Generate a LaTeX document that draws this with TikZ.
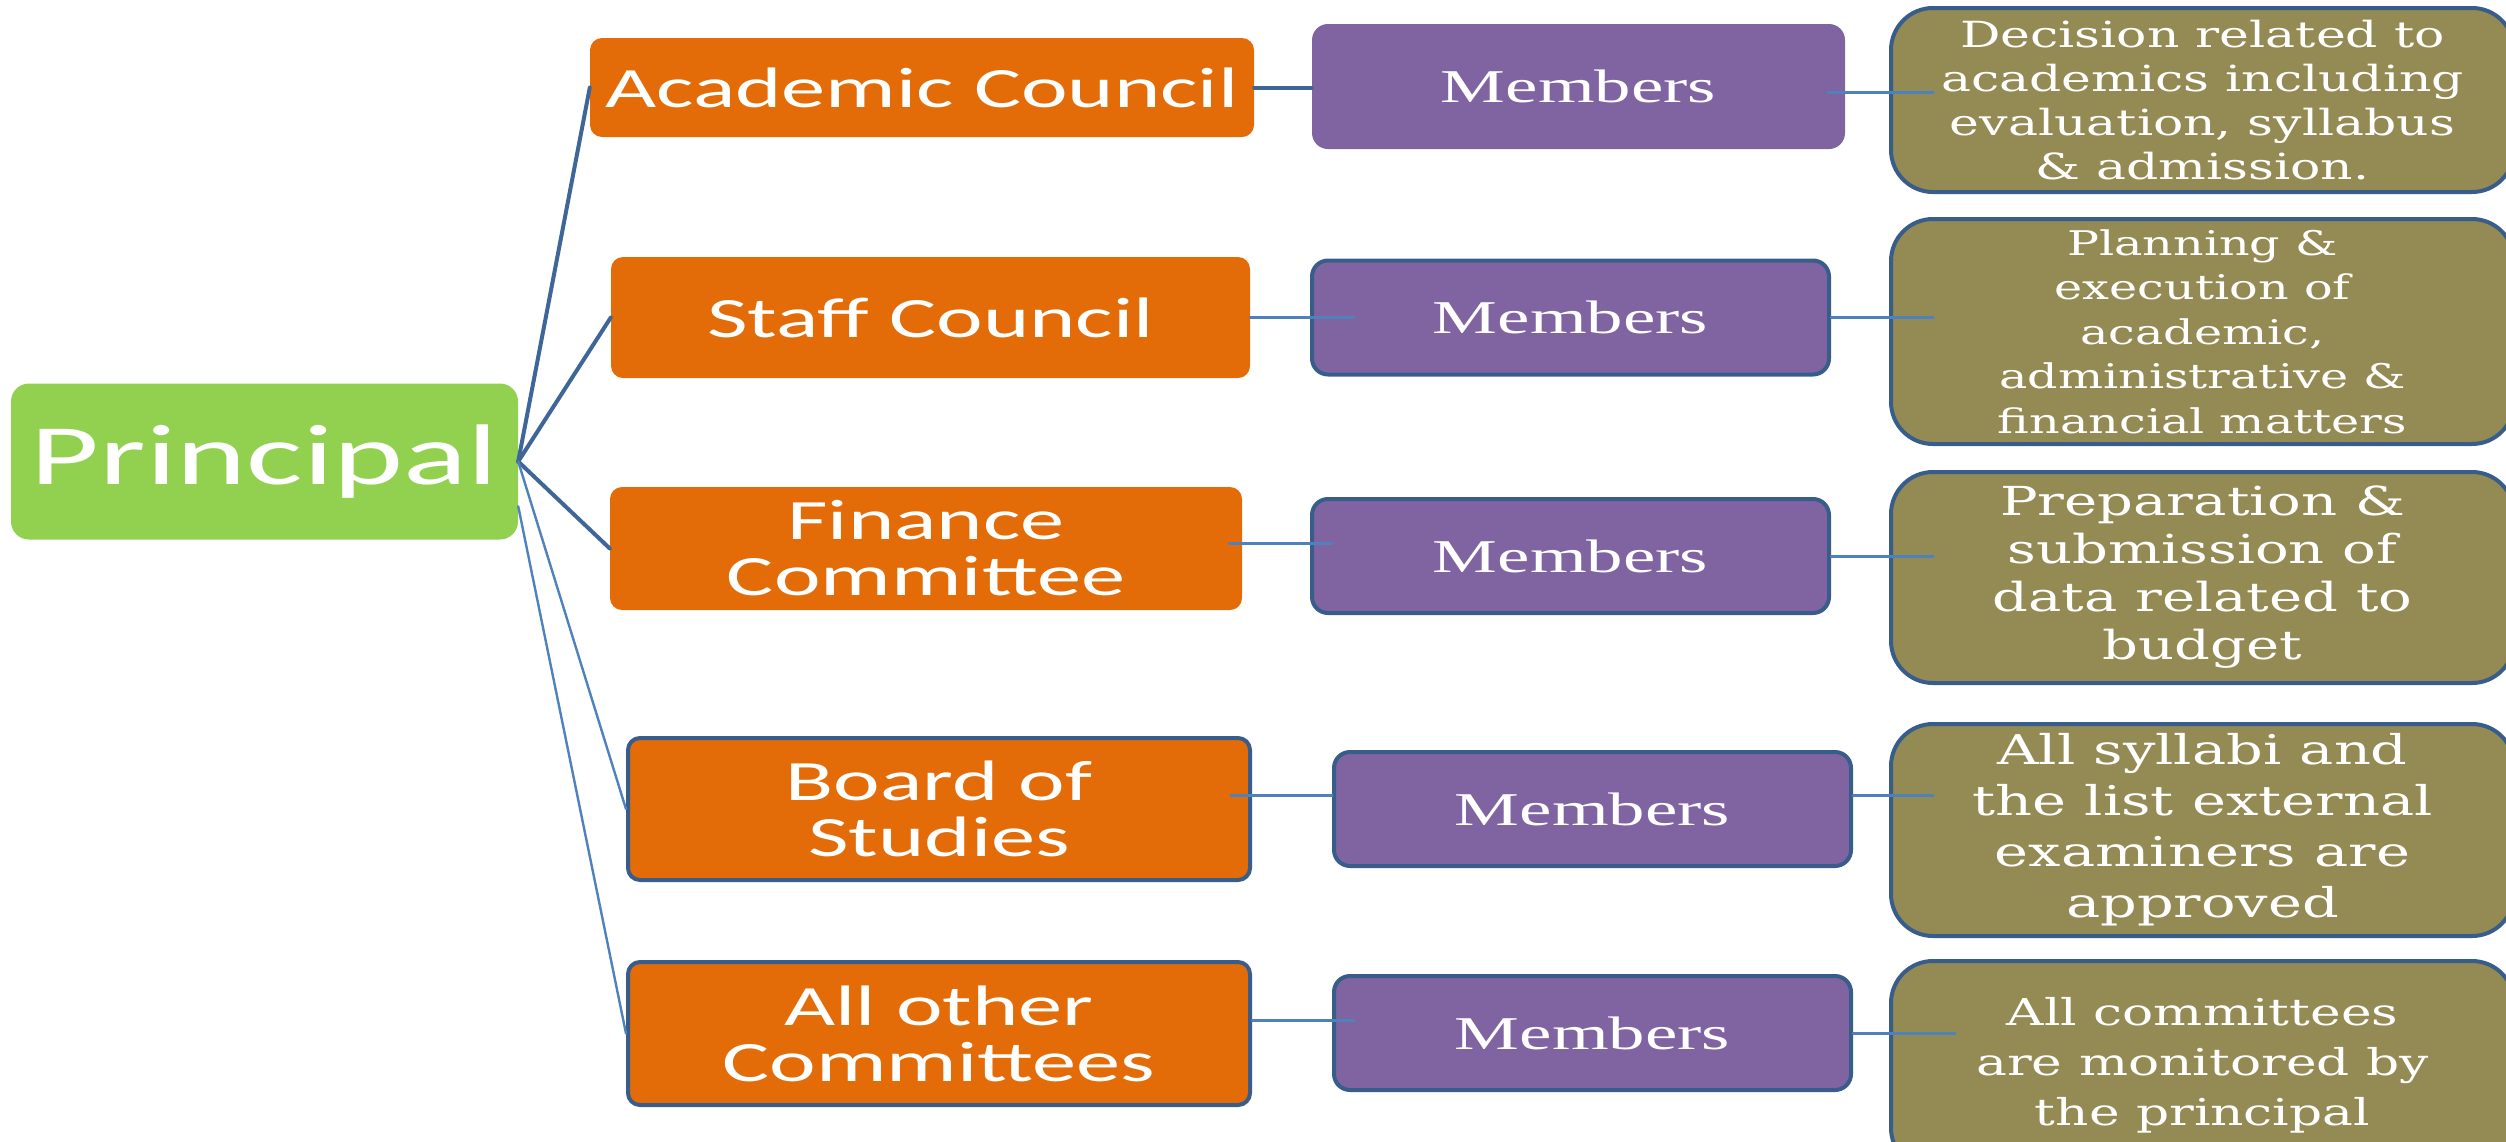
\documentclass[tikz,border=0pt]{standalone}
\usepackage{fontspec}
\newfontfamily\principalfont[FakeStretch=1.55]{Carlito}
\newfontfamily\councilfont[FakeStretch=1.55]{Carlito}
\newfontfamily\memberfont[FakeStretch=1.55]{Liberation Serif}
\newfontfamily\dutyfont[FakeStretch=1.4]{DejaVu Serif}
\definecolor{headgreen}{HTML}{92D050}
\definecolor{council}{HTML}{E36C09}
\definecolor{member}{HTML}{8064A2}
\definecolor{duty}{HTML}{948A54}
\definecolor{rim}{HTML}{385D8A}
\definecolor{trunkblue}{HTML}{3E6697}
\definecolor{twigblue}{HTML}{4F81BD}

\begin{document}
\begin{tikzpicture}[
  x=1pt, y=-1pt,
  line cap=round, line join=round,
  every node/.style={text=white, inner sep=0pt, align=center},
  head/.style={fill=headgreen, rounded corners=18pt, minimum width=507pt, minimum height=156pt,
    font=\principalfont\fontsize{86}{90}\selectfont},
  council/.style={fill=council, rounded corners=12pt, font=\councilfont\fontsize{57}{56}\selectfont},
  member/.style={fill=member, rounded corners=16pt, minimum width=517pt, minimum height=114pt,
    font=\memberfont\fontsize{47}{50}\selectfont},
  duty/.style={fill=duty, draw=rim, line width=4pt, rounded corners=42pt, minimum width=623pt},
  rimmed/.style={draw=rim, line width=4pt},
  trunk/.style={draw=trunkblue, line width=4pt},
  twig/.style={draw=twigblue, line width=2.4pt},
  stub/.style={draw=twigblue, line width=3pt},
]
\useasboundingbox (0,0) rectangle (2506,1141);
\clip (0,0) rectangle (2506,1141);

\node[head] (principal) at (264.5,461.5) {Principal};

% committees
\node[council, minimum width=664pt, minimum height=99pt] (acad) at (922,87.5) {Academic Council};
\node[council, minimum width=639pt, minimum height=121pt] (staff) at (930.5,317.5) {Staff Council};
\node[council, minimum width=632pt, minimum height=123pt] (finance) at (926,548.5) {Finance\\Committee};
\node[council, rimmed, minimum width=622pt, minimum height=142pt] (board) at (939,809) {Board of\\Studies};
\node[council, rimmed, minimum width=622pt, minimum height=143pt] (other) at (939,1033.5) {All other\\Committees};

% members
\node[member, minimum width=533pt, minimum height=125pt] (mem1) at (1578.5,86.5) {Members};
\node[member, rimmed] (mem2) at (1570.5,317.5) {Members};
\node[member, rimmed] (mem3) at (1570.5,556) {Members};
\node[member, rimmed] (mem4) at (1592.5,809) {Members};
\node[member, rimmed] (mem5) at (1592.5,1033) {Members};

% duties
\node[duty, minimum height=184pt, font=\dutyfont\fontsize{36}{44}\selectfont] (duty1) at (2202.5,100)
  {Decision related to\\academics including\\evaluation, syllabus\\\& admission.};
\node[duty, minimum height=225pt, font=\dutyfont\fontsize{34}{44.5}\selectfont] (duty2) at (2202.5,331.5)
  {Planning \&\\execution of\\academic,\\administrative \&\\financial matters};
\node[duty, minimum height=211pt, font=\dutyfont\fontsize{40}{48}\selectfont] (duty3) at (2202.5,577.5)
  {Preparation \&\\submission of\\data related to\\budget};
\node[duty, minimum height=212pt, font=\dutyfont\fontsize{41}{51}\selectfont] (duty4) at (2202.5,830)
  {All syllabi and\\the list external\\examiners are\\approved};
\node[duty, minimum height=209pt, font=\dutyfont\fontsize{37}{50}\selectfont] (duty5) at (2202.5,1065.5)
  {All committees\\are monitored by\\the principal};

% principal to committees
\draw[trunk] (principal.east) -- (acad.west);
\draw[trunk] (principal.east) -- (staff.west);
\draw[trunk] (principal.east) -- (finance.west);
\draw[twig] (principal.east) -- (board.west);
\draw[twig] (principal.-10) -- (other.west);

% committees to members
\draw[trunk] (acad.east) -- (acad.east -| mem1.west);
\draw[stub, shorten >=-44pt] (staff.east) -- (staff.east -| mem2.west);
\draw[stub, shorten <=-13pt, shorten >=-22pt] ([yshift=5pt]finance.east) -- ([yshift=5pt]finance.east -| mem3.west);
\draw[stub, shorten <=-21pt] ([yshift=14pt]board.east) -- ([yshift=14pt]board.east -| mem4.west);
\draw[stub, shorten >=-22pt] ([yshift=13pt]other.east) -- ([yshift=13pt]other.east -| mem5.west);

% members to duties
\draw[stub, shorten <=-17pt, shorten >=-44pt] ([yshift=-6pt]mem1.east) -- ([yshift=-6pt]mem1.east -| duty1.west);
\draw[stub, shorten >=-44pt] (mem2.east) -- (mem2.east -| duty2.west);
\draw[stub, shorten >=-44pt] (mem3.east) -- (mem3.east -| duty3.west);
\draw[stub, shorten >=-44pt] ([yshift=14pt]mem4.east) -- ([yshift=14pt]mem4.east -| duty4.west);
\draw[stub, shorten >=-66pt] (mem5.east) -- (mem5.east -| duty5.west);
\end{tikzpicture}
\end{document}
